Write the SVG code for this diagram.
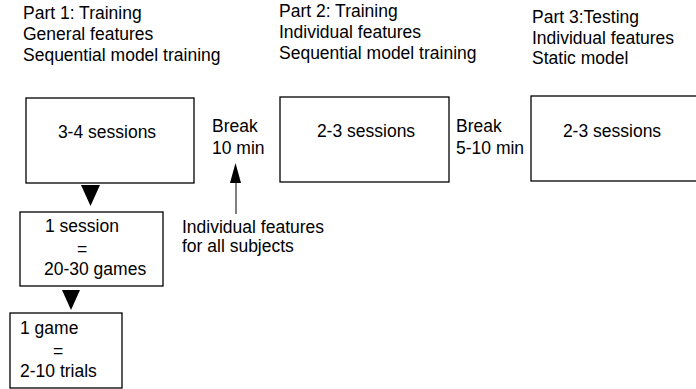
<svg xmlns="http://www.w3.org/2000/svg" width="696" height="389" viewBox="0 0 696 389">
<style>
text{font-family:"Liberation Sans",Arial,sans-serif;font-size:17.5px;fill:#000}
.box{fill:#fff;stroke:#000;stroke-width:1.3}
.mid{text-anchor:middle}
</style>
<rect width="696" height="389" fill="#fff"/>
<g id="labels">
<text x="23" y="19">Part 1: Training</text>
<text x="23" y="40">General features</text>
<text x="23" y="61">Sequential model training</text>
<text x="279" y="17">Part 2: Training</text>
<text x="279" y="38">Individual features</text>
<text x="279" y="59">Sequential model training</text>
<text x="532" y="23">Part 3:Testing</text>
<text x="532" y="44">Individual features</text>
<text x="532" y="64">Static model</text>
<text x="212" y="132">Break</text>
<text x="212" y="154">10 min</text>
<text x="456" y="132">Break</text>
<text x="456" y="154">5-10 min</text>
<text x="182" y="232.5">Individual features</text>
<text x="182" y="252">for all subjects</text>
</g>
<g id="node-part1">
<rect class="box" x="26" y="98" width="168" height="85"/>
<text class="mid" x="107" y="138">3-4 sessions</text>
</g>
<g id="node-part2">
<rect class="box" x="280" y="97" width="169" height="85"/>
<text class="mid" x="366" y="137">2-3 sessions</text>
</g>
<g id="node-part3">
<rect class="box" x="531" y="96" width="170" height="85"/>
<text class="mid" x="612" y="137">2-3 sessions</text>
</g>
<g id="node-session">
<rect class="box" x="20" y="212" width="143" height="74"/>
<text x="45" y="232">1 session</text>
<text x="77" y="255">=</text>
<text x="44" y="275">20-30 games</text>
</g>
<g id="node-game">
<rect class="box" x="10" y="313" width="112" height="75"/>
<text x="20" y="334">1 game</text>
<text x="53" y="357">=</text>
<text x="20" y="377">2-10 trials</text>
</g>
<g id="connectors">
<polygon points="81,185 100,185 90.5,206" fill="#000"/>
<polygon points="62,290 80,290 71,310" fill="#000"/>
<line x1="236" y1="180" x2="236" y2="214" stroke="#000" stroke-width="1"/>
<polygon points="230,183 241,183 235.5,163" fill="#000"/>
</g>
</svg>
